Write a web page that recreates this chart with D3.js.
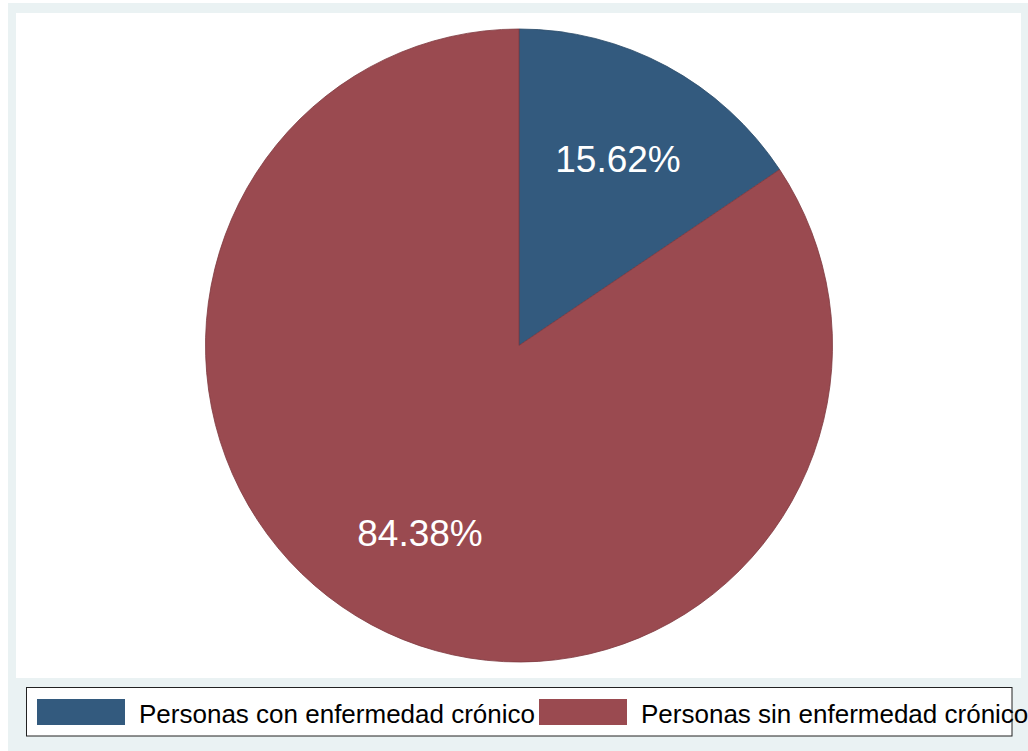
<!DOCTYPE html>
<html>
<head>
<meta charset="utf-8">
<script src="https://cdn.jsdelivr.net/npm/d3@7/dist/d3.min.js"></script>
<style>
  html, body { margin: 0; padding: 0; background: #ffffff; }
  svg { display: block; }
  text { font-family: "Liberation Sans", Arial, sans-serif; }
</style>
</head>
<body>
<svg id="chart" width="1028" height="751"></svg>
<script>
// Share of people with / without a chronic illness
const categories = ["Personas con enfermedad crónico", "Personas sin enfermedad crónico"];
const shares = [15.62, 84.38];
const sliceLabels = ["15.62%", "84.38%"];
const colors = ["#335A7E", "#9A4A50"];
const edgeColors = ["#2a4b69", "#7e3a40"];

const svg = d3.select("#chart");

// outer graph region and inner plot region
svg.append("rect").attr("x", 8).attr("y", 3).attr("width", 1020).attr("height", 748).attr("fill", "#EAF2F3");
svg.append("rect").attr("x", 16).attr("y", 13).attr("width", 1005).attr("height", 665).attr("fill", "#ffffff");

// pie geometry
const cx = 519, cy = 345.5, rx = 313.5, ry = 316.5;
const pie = d3.pie().sort(null).value(d => d)(shares);
const arc = d3.arc().innerRadius(0).outerRadius(rx);
const labelArc = d3.arc().innerRadius(rx * 0.67).outerRadius(rx * 0.67);

const g = svg.append("g").attr("transform", `translate(${cx},${cy}) scale(1,${ry / rx})`);
g.selectAll("path.slice")
  .data(pie)
  .join("path")
  .attr("class", "slice")
  .attr("d", arc)
  .attr("fill", (d, i) => colors[i])
  .attr("stroke", (d, i) => edgeColors[i])
  .attr("stroke-width", 0.8);

const lg = svg.append("g").attr("transform", `translate(${cx},${cy})`);
lg.selectAll("text.pct")
  .data(pie)
  .join("text")
  .attr("class", "pct")
  .attr("x", d => labelArc.centroid(d)[0])
  .attr("y", d => labelArc.centroid(d)[1] * (ry / rx))
  .attr("dy", "0.36em")
  .attr("text-anchor", "middle")
  .attr("fill", "#ffffff")
  .attr("font-size", 37)
  .text((d, i) => sliceLabels[i]);

// legend
const legend = svg.append("g");
legend.append("rect")
  .attr("x", 26.5).attr("y", 687.5).attr("width", 985.5).attr("height", 48.5)
  .attr("fill", "#ffffff").attr("stroke", "#222222").attr("stroke-width", 1);

const keyX = [37, 539];
categories.forEach((c, i) => {
  legend.append("rect")
    .attr("x", keyX[i]).attr("y", 699).attr("width", 88).attr("height", 26)
    .attr("fill", colors[i]);
  legend.append("text")
    .attr("x", keyX[i] + 102).attr("y", 722.7)
    .attr("font-size", 26)
    .attr("fill", "#000000")
    .text(c);
});
</script>
</body>
</html>
